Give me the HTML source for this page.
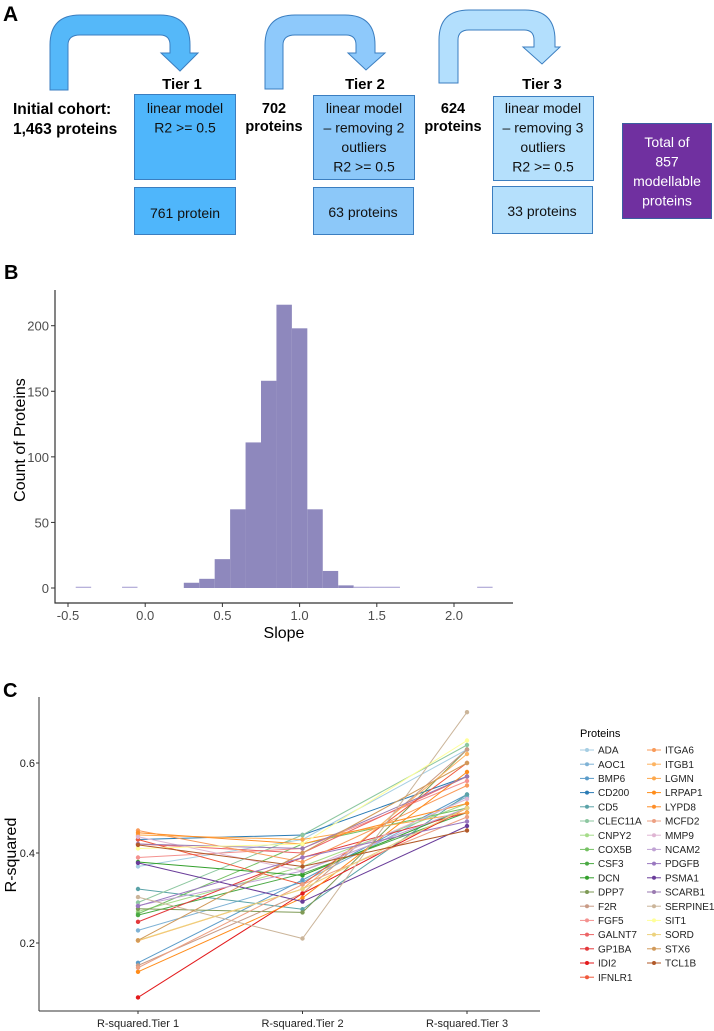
<!DOCTYPE html>
<html><head><meta charset="utf-8"><style>
body{margin:0;background:#fff;}
svg{display:block;font-family:"Liberation Sans",sans-serif;}
</style></head><body>
<svg id="fig" width="714" height="1031" viewBox="0 0 714 1031">
<g>
<text x="3" y="21" font-size="21" font-weight="bold">A</text>
<path d="M50,90 L50,45 Q50,15 80,15 L160,15 Q190,15 190,45 L190,53 L198,53 L180,71 L161,53 L170,53 L170,45 Q170,35 160,35 L80,35 Q68,35 68,45 L68,90 Z" fill="#55b8f9" stroke="#3b7ec0" stroke-width="1"/>
<path d="M265,89 L265,45 Q265,15 295,15 L345,15 Q375,15 375,45 L375,53 L385,53 L366,70 L348,53 L356,53 L356,45 Q356,35 346,35 L295,35 Q283,35 283,45 L283,89 Z" fill="#8ec9fb" stroke="#3b7ec0" stroke-width="1"/>
<path d="M439,83 L439,40 Q439,10 469,10 L525,10 Q555,10 555,40 L555,47 L560,47 L542,64 L523,47 L534,47 L534,40 Q534,30 524,30 L469,30 Q458,30 458,40 L458,83 Z" fill="#b3dffd" stroke="#3b7ec0" stroke-width="1"/>
<g font-weight="bold" font-size="15" text-anchor="middle">
<text x="182" y="89">Tier 1</text>
<text x="365" y="89">Tier 2</text>
<text x="542" y="89">Tier 3</text>
</g>
<g font-weight="bold" font-size="15.5">
<text x="13" y="114">Initial cohort:</text>
<text x="13" y="134">1,463 proteins</text>
<text x="274" y="113" text-anchor="middle" font-size="14.5">702</text>
<text x="274" y="131" text-anchor="middle" font-size="14.5">proteins</text>
<text x="453" y="113" text-anchor="middle" font-size="14.5">624</text>
<text x="453" y="131" text-anchor="middle" font-size="14.5">proteins</text>
</g>
<rect x="134.5" y="94.5" width="101" height="85" fill="#4fb6fb" stroke="#3b7ec0"/>
<rect x="134.5" y="187.5" width="101" height="47" fill="#4fb6fb" stroke="#3b7ec0"/>
<rect x="313.5" y="95.5" width="101" height="84" fill="#8cc8f9" stroke="#3b7ec0"/>
<rect x="313.5" y="187.5" width="100" height="47" fill="#8cc8f9" stroke="#3b7ec0"/>
<rect x="493.5" y="96.5" width="100" height="84" fill="#b5e0fc" stroke="#3b7ec0"/>
<rect x="492.5" y="186.5" width="100" height="47" fill="#b5e0fc" stroke="#3b7ec0"/>
<rect x="622.5" y="123.5" width="89" height="95" fill="#7030a0" stroke="#3b5ea0"/>
<g font-size="14" text-anchor="middle" fill="#111">
<text x="185" y="113"><tspan x="185">linear model</tspan><tspan x="185" dy="19.5">R2 &gt;= 0.5</tspan></text>
<text x="185" y="218">761 protein</text>
<text x="364" y="113"><tspan x="364">linear model</tspan><tspan x="364" dy="19.5">– removing 2</tspan><tspan x="364" dy="19.5">outliers</tspan><tspan x="364" dy="19.5">R2 &gt;= 0.5</tspan></text>
<text x="363" y="217">63 proteins</text>
<text x="543" y="113"><tspan x="543">linear model</tspan><tspan x="543" dy="19.5">– removing 3</tspan><tspan x="543" dy="19.5">outliers</tspan><tspan x="543" dy="19.5">R2 &gt;= 0.5</tspan></text>
<text x="542" y="216">33 proteins</text>
<text x="667" y="147" fill="#fff"><tspan x="667">Total of</tspan><tspan x="667" dy="19.5">857</tspan><tspan x="667" dy="19.5">modellable</tspan><tspan x="667" dy="19.5">proteins</tspan></text>
</g>
</g>
<text x="4" y="279" font-size="20" font-weight="bold">B</text>
<g id="hist"></g>
<text x="3" y="697" font-size="20" font-weight="bold">C</text>
<g id="lines"></g>
</svg>
<script>
const NS="http://www.w3.org/2000/svg";
function mk(p,tag,at,txt){const e=document.createElementNS(NS,tag);for(const k in at)e.setAttribute(k,at[k]);if(txt!==undefined)e.textContent=txt;p.appendChild(e);return e;}

// Histogram data
const binStarts=[-0.45,-0.15,0.25,0.35,0.45,0.55,0.65,0.75,0.85,0.95,1.05,1.15,1.25,1.35,1.45,1.55,2.15];
const binCounts=[1,1,4,7,22,60,111,158,216,198,60,13,2,1,1,1,1];
const slopeTicks=[-0.5,0,0.5,1,1.5,2];
const slopeTickLabels=["-0.5","0.0","0.5","1.0","1.5","2.0"];
const countTicks=[0,50,100,150,200];
const binWidth=0.1;

// Panel C data
const tierLabels=["R-squared.Tier 1","R-squared.Tier 2","R-squared.Tier 3"];
const proteins=["ADA","AOC1","BMP6","CD200","CD5","CLEC11A","CNPY2","COX5B","CSF3","DCN","DPP7","F2R","FGF5","GALNT7","GP1BA","IDI2","IFNLR1","ITGA6","ITGB1","LGMN","LRPAP1","LYPD8","MCFD2","MMP9","NCAM2","PDGFB","PSMA1","SCARB1","SERPINE1","SIT1","SORD","STX6","TCL1B"];
const proteinColors=["#a6cee3","#7fb2d5","#5a9bc9","#2b7bb4","#5ba3a8","#8dc7a0","#a6dc8a","#75c163","#4ba944","#33a02c","#7e9a55","#c99b86","#f4918f","#ec6466","#e3393b","#e31a1c","#f0593c","#f99b5a","#fdb462","#fda84c","#ff8c1a","#fe8f2a","#eda083","#dfb5d3","#c0a3d4","#9a78c0","#6a3d9a","#9a7ab0","#cbb59a","#ffff99","#ecd27e","#d19a5a","#b15928"];
const legendLeft=["ADA","AOC1","BMP6","CD200","CD5","CLEC11A","CNPY2","COX5B","CSF3","DCN","DPP7","F2R","FGF5","GALNT7","GP1BA","IDI2","IFNLR1"];
const tier1=[0.37,0.228,0.156,0.43,0.32,0.29,0.27,0.265,0.262,0.38,0.276,0.15,0.39,0.42,0.247,0.079,0.43,0.45,0.205,0.44,0.136,0.445,0.145,0.436,0.283,0.282,0.378,0.42,0.302,0.41,0.206,0.206,0.418];
const tier2=[0.43,0.335,0.34,0.44,0.275,0.44,0.37,0.42,0.354,0.35,0.268,0.31,0.41,0.40,0.39,0.31,0.33,0.38,0.32,0.43,0.30,0.42,0.33,0.36,0.36,0.39,0.292,0.41,0.21,0.42,0.32,0.40,0.37];
const tier3=[0.63,0.525,0.53,0.57,0.53,0.64,0.51,0.50,0.49,0.50,0.63,0.63,0.56,0.57,0.49,0.50,0.60,0.55,0.62,0.49,0.58,0.51,0.48,0.52,0.50,0.47,0.46,0.57,0.713,0.65,0.50,0.60,0.45];

// ---- Histogram ----
const H=document.getElementById('hist');
const hx=v=>68+(v+0.5)*154.4, hy=c=>588-c*1.3115;
binStarts.forEach((b,i)=>{
  const r=mk(H,'rect',{x:hx(b),y:hy(binCounts[i]),width:hx(b+binWidth)-hx(b),height:hy(0)-hy(binCounts[i]),fill:binCounts[i]<=1?'#b7b1da':'#8e88bd'});
  
  
});
let a=mk(H,'line',{x1:55,y1:290,x2:55,y2:603.5,stroke:'#333','stroke-width':1.2});

a=mk(H,'line',{x1:54.5,y1:603,x2:513,y2:603,stroke:'#333','stroke-width':1.2});

countTicks.forEach(c=>{
  mk(H,'line',{x1:51,x2:55,y1:hy(c),y2:hy(c),stroke:'#333'});
  const t=mk(H,'text',{x:49,y:hy(c)+5,'text-anchor':'end','font-size':13,fill:'#4d4d4d'},String(c));
  
});
slopeTicks.forEach((s,i)=>{
  mk(H,'line',{x1:hx(s),x2:hx(s),y1:603,y2:607,stroke:'#333'});
  const t=mk(H,'text',{x:hx(s),y:620,'text-anchor':'middle','font-size':13,fill:'#4d4d4d'},slopeTickLabels[i]);
  
});
let t=mk(H,'text',{x:284,y:638,'text-anchor':'middle','font-size':16},'Slope');

t=mk(H,'text',{x:0,y:0,'text-anchor':'middle','font-size':16,transform:'translate(25,440) rotate(-90)'},'Count of Proteins');


// ---- Line chart ----
const L=document.getElementById('lines');
const cx=i=>138+i*164.5, cy=v=>943-(v-0.2)*450;
proteins.forEach((p,i)=>{
  const vals=[tier1[i],tier2[i],tier3[i]];
  const pl=mk(L,'polyline',{points:vals.map((v,j)=>cx(j)+','+cy(v)).join(' '),fill:'none',stroke:proteinColors[i],'stroke-width':1});
  
  
  vals.forEach((v,j)=>{
    const c=mk(L,'circle',{cx:cx(j),cy:cy(v),r:2.2,fill:proteinColors[i]});
    
    
  });
});
a=mk(L,'line',{x1:39,y1:697,x2:39,y2:1011,stroke:'#333','stroke-width':1});

a=mk(L,'line',{x1:39,y1:1011,x2:540,y2:1011,stroke:'#333','stroke-width':1});

[0.2,0.4,0.6].forEach(v=>{
  mk(L,'line',{x1:36,x2:39,y1:cy(v),y2:cy(v),stroke:'#333'});
  const tt=mk(L,'text',{x:35,y:cy(v)+4,'text-anchor':'end','font-size':11,fill:'#222'},v.toFixed(1));
  
});
tierLabels.forEach((s,i)=>{
  mk(L,'line',{x1:cx(i),x2:cx(i),y1:1011,y2:1014,stroke:'#333'});
  const tt=mk(L,'text',{x:cx(i),y:1027,'text-anchor':'middle','font-size':11,fill:'#222'},s);
  
});
t=mk(L,'text',{x:0,y:0,'text-anchor':'middle','font-size':16,transform:'translate(16,855) rotate(-90)'},'R-squared');

t=mk(L,'text',{x:580,y:737,'font-size':11},'Proteins');

proteins.forEach((p,i)=>{
  const left=i<legendLeft.length, k=left?i:i-legendLeft.length;
  const x0=left?580:647, y0=750+k*14.2;
  const g=mk(L,'g',{});
  
  
  mk(g,'line',{x1:x0,x2:x0+14,y1:y0,y2:y0,stroke:proteinColors[i],'stroke-width':1});
  mk(g,'circle',{cx:x0+7,cy:y0,r:2,fill:proteinColors[i]});
  mk(g,'text',{x:x0+18,y:y0+3.6,'font-size':10,fill:'#222'},p);
});
</script>
</body></html>
